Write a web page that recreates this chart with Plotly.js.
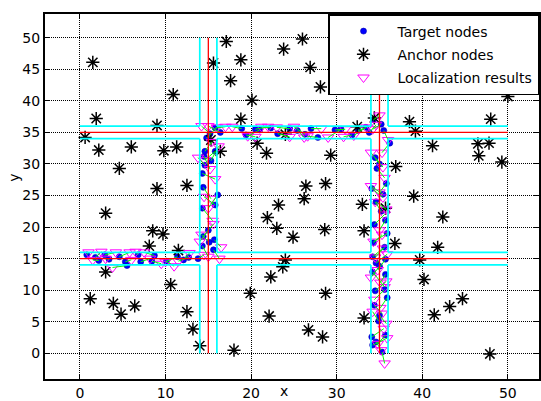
<!DOCTYPE html>
<html>
<head>
<meta charset="utf-8">
<script src="https://cdn.plot.ly/plotly-3.0.1.min.js"></script>
<style>html,body{margin:0;padding:0;background:#fff;}#chart{width:541px;height:401px;}</style>
</head>
<body>
<div id="chart"></div>
<script>
// Anchor nodes
const anchorX = [1.5,1.9,0.6,2.2,6.0,4.6,9.0,9.8,10.9,11.3,9.0,12.5,15.6,17.1,18.8,17.6,20.1,18.8,16.4,20.7,21.8,26.0,23.8,26.9,28.1,50.0,48.0,38.5,39.2,41.2,46.5,47.8,46.6,49.3,32.4,29.3,36.9,26.4,28.7,39.0,26.2,23.2,21.9,23.0,24.9,28.6,24.0,23.7,22.3,19.9,28.7,22.1,26.7,28.35,18.0,33.0,33.2,35.7,34.4,36.8,42.4,41.8,39.7,40.2,44.7,43.2,41.4,33.2,47.9,3.0,8.5,9.7,8.1,11.5,3.0,10.6,1.2,3.9,4.8,6.4,12.5,13.2,14.0,15.3,24.0];
const anchorY = [46.1,37.2,34.2,32.2,32.7,29.3,36.1,32.1,41.0,32.7,26.1,26.6,46.0,49.4,46.5,43.2,40.1,37.1,32.0,33.3,31.7,49.8,48.2,45.3,42.2,40.7,37.1,36.7,35.2,32.9,33.2,33.3,31.3,30.3,35.9,31.4,29.6,26.5,26.9,24.9,24.5,23.5,21.5,19.8,18.4,19.6,14.8,13.7,12.1,9.5,9.5,5.9,3.7,2.6,0.5,23.6,19.4,23.0,37.3,17.4,21.6,16.8,14.8,11.7,8.65,7.4,6.1,5.6,-0.1,22.2,19.4,18.9,17.0,16.3,12.9,10.9,8.65,7.9,6.2,7.5,6.6,3.85,1.2,33.8,34.7];

// Target nodes (true positions)
const targetX = [
 0.8,1.8,2.2,2.9,3.4,4.6,5.3,5.5,6.8,7.1,8.4,8.7,10.1,11.4,12.1,12.7,13.8,
 15.6,14.3,15.1,15.7,14.4,15.0,14.3,15.8,14.4,16.1,14.3,14.6,14.5,15.3,14.6,15.8,14.8,15.2,
 15.8,16.4,18.9,19.4,20.5,21.0,22.3,23.1,24.5,25.4,26.3,27.0,27.8,29.8,30.5,31.8,32.5,33.4,
 34.3,35.2,33.8,36.2,35.5,34.5,35.0,34.7,35.8,34.1,35.4,34.6,35.2,35.7,34.4,35.9,34.3,35.6,34.2,35.7,34.6,35.0,35.7,34.2,35.6,34.5,35.9,34.4,35.0,34.9,35.7,34.1,34.6,34.2,35.3];
const targetY = [
 15.6,15.2,14.7,15.6,14.9,15.3,14.5,13.9,15.6,14.5,14.6,15.5,14.6,15.3,14.8,15.2,15.0,
 16.4,17.0,17.6,18.0,18.5,19.5,23.0,23.5,26.3,25.1,28.5,29.8,31.2,30.5,32.0,32.0,34.1,34.8,
 35.7,35.0,35.6,34.6,35.5,35.4,35.7,34.8,35.6,35.3,34.7,35.6,34.2,35.4,35.5,34.6,35.3,35.8,
 37.0,36.3,35.0,33.3,35.3,31.0,30.0,29.3,26.9,26.1,25.2,24.0,22.5,21.1,20.4,19.0,17.5,16.8,15.3,14.9,14.3,13.8,12.5,12.9,10.1,9.9,8.8,7.6,6.0,5.1,2.9,2.6,1.8,1.3,0.2];

// Localization results (estimated positions)
const estX = [
 1.0,2.5,1.5,4.2,3.0,5.8,6.0,3.8,6.5,8.2,9.5,7.5,11.0,10.0,12.8,11.5,14.5,
 16.3,15.0,14.2,16.5,15.6,14.0,15.5,14.5,15.3,15.0,15.8,13.8,15.2,16.2,15.4,14.6,16.0,14.2,
 17.0,15.0,17.8,20.5,22.0,19.6,21.2,24.5,23.0,26.2,25.0,28.2,26.6,31.0,29.0,30.8,33.5,32.0,
 35.0,34.2,34.6,35.3,36.0,35.4,34.0,35.6,35.0,35.4,34.0,35.8,34.5,35.0,35.6,34.3,35.3,34.5,35.4,34.8,35.9,34.0,35.1,35.6,34.4,35.8,35.1,35.3,35.8,34.2,34.8,35.5,35.2,35.9,35.6];
const estY = [
 16.0,16.1,14.8,16.0,15.0,16.0,14.8,13.6,16.1,15.0,14.2,16.0,13.8,14.5,15.9,14.6,15.6,
 15.0,15.3,18.8,16.8,20.5,17.7,21.0,24.8,24.5,23.0,27.6,31.0,29.2,32.8,33.5,30.6,35.8,36.0,
 35.9,36.0,35.9,34.3,35.9,34.4,35.9,34.3,35.8,34.2,35.9,35.6,34.4,35.5,34.2,34.3,35.8,34.5,
 37.7,35.5,36.2,31.8,33.8,29.5,31.8,27.8,25.5,24.7,26.5,22.8,24.0,19.5,22.0,17.7,18.8,15.2,16.6,13.2,15.7,12.0,11.2,10.5,8.5,11.4,7.2,6.3,4.7,6.6,1.5,3.9,0.5,2.4,-1.6];

// Corridor geometry
const corridorCenters = [15, 35];
const corridorEdges = [14, 16, 34, 36];
const edgeSpans = [[0, 14], [16, 34], [36, 50]];
const fieldSpan = [0, 50];

const xTicks = [0, 10, 20, 30, 40, 50];
const yTicks = [0, 5, 10, 15, 20, 25, 30, 35, 40, 45, 50];

// Build derived line arrays
const errX = [], errY = [];
for (let i = 0; i < targetX.length; i++) {
  errX.push(targetX[i], estX[i], null);
  errY.push(targetY[i], estY[i], null);
}
const redX = [], redY = [];
corridorCenters.forEach(c => {
  redX.push(c, c, null); redY.push(fieldSpan[0], fieldSpan[1], null);
  redX.push(fieldSpan[0], fieldSpan[1], null); redY.push(c, c, null);
});
const cyanX = [], cyanY = [];
corridorEdges.forEach(e => {
  edgeSpans.forEach(s => {
    cyanX.push(s[0], s[1], null); cyanY.push(e, e, null);
    cyanX.push(e, e, null); cyanY.push(s[0], s[1], null);
  });
});

const FONT = 'DejaVu Sans, Arial, Helvetica, sans-serif';

const traces = [
  {x: targetX, y: targetY, mode: 'markers', type: 'scatter', name: 'Target nodes', legendgroup: 'a',
   marker: {symbol: 'circle', size: 6, color: '#0000ff', line: {width: 0.6, color: '#0000b0'}}},
  {x: anchorX, y: anchorY, mode: 'markers', type: 'scatter', name: 'Anchor nodes', legendgroup: 'b',
   marker: {symbol: 'asterisk-open', size: 11, color: '#000000', line: {width: 1.5, color: '#000000'}}},
  {x: estX, y: estY, mode: 'markers', type: 'scatter', name: 'Localization results', legendgroup: 'c',
   marker: {symbol: 'triangle-down-open', size: 10, color: '#ff00ff', line: {width: 1, color: '#ff00ff'}}},
  {x: errX, y: errY, mode: 'lines', type: 'scatter', showlegend: false, hoverinfo: 'skip',
   line: {color: '#00ff00', width: 1}},
  {x: cyanX, y: cyanY, mode: 'lines', type: 'scatter', showlegend: false, hoverinfo: 'skip',
   line: {color: '#00ffff', width: 1.7}},
  {x: redX, y: redY, mode: 'lines', type: 'scatter', showlegend: false, hoverinfo: 'skip',
   line: {color: '#ff0000', width: 1.3}}
];

const axisCommon = {
  ticks: 'inside', ticklen: 5, tickwidth: 1, tickcolor: '#000',
  showline: true, linecolor: '#000', linewidth: 2, mirror: 'ticks',
  showgrid: true, gridcolor: '#000', griddash: '1px,1px', gridwidth: 1,
  zeroline: false, tickfont: {family: FONT, size: 14, color: '#000'}
};

const layout = {
  width: 541, height: 401,
  margin: {l: 45, r: 1.5, t: 14, b: 22, pad: 0},
  paper_bgcolor: '#fff', plot_bgcolor: '#fff',
  font: {family: FONT, size: 14, color: '#000'},
  xaxis: Object.assign({}, axisCommon, {range: [-4.086, 53.64], tickvals: xTicks, ticktext: xTicks.map(String)}),
  yaxis: Object.assign({}, axisCommon, {range: [-4.07, 53.76], tickvals: yTicks, ticktext: yTicks.map(String)}),
  showlegend: true,
  legend: {x: 1, y: 1, xanchor: 'right', yanchor: 'top', bgcolor: '#fff',
           bordercolor: '#000', borderwidth: 1.5, font: {family: FONT, size: 14, color: '#000'},
           itemwidth: 58, traceorder: 'grouped', tracegroupgap: 2},
  annotations: [
    {text: 'x', xref: 'x', x: 23.9, yref: 'paper', y: -0.059, showarrow: false,
     xanchor: 'center', yanchor: 'bottom', font: {family: FONT, size: 14, color: '#000'}},
    {text: 'y', xref: 'paper', x: -0.063, yref: 'y', y: 27.8, showarrow: false, textangle: -90,
     xanchor: 'center', yanchor: 'middle', font: {family: FONT, size: 14, color: '#000'}}
  ]
};

Plotly.newPlot('chart', traces, layout, {displayModeBar: false, staticPlot: true});
</script>
</body>
</html>
